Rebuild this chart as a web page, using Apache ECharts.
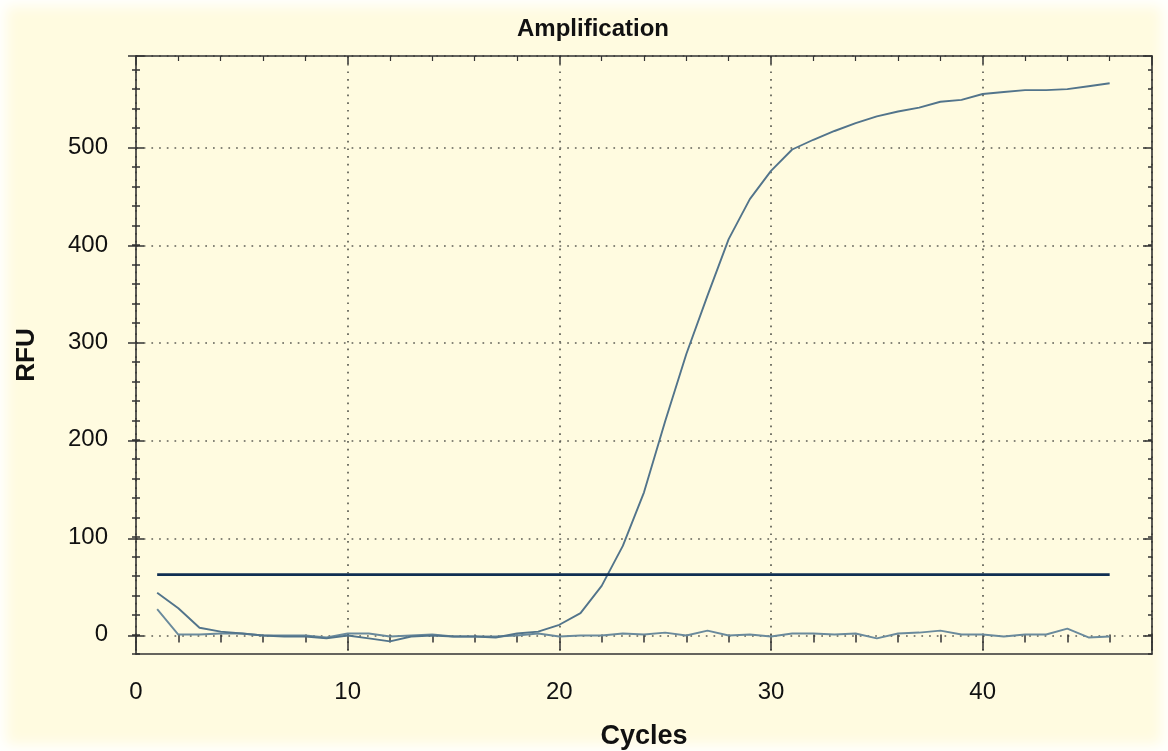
<!DOCTYPE html>
<html>
<head>
<meta charset="utf-8">
<title>Amplification</title>
<script src="https://cdn.jsdelivr.net/npm/echarts@6/dist/echarts.min.js"></script>
<style>
  html, body { margin: 0; padding: 0; background: #fffbe0; }
  #chart {
    width: 1168px;
    height: 751px;
    background: #fffbe0;
    box-shadow: inset 0 0 14px 6px #ffffff;
  }
</style>
</head>
<body>
<div id="chart"></div>
<script>
const cycles = [1, 2, 3, 4, 5, 6, 7, 8, 9, 10, 11, 12, 13, 14, 15, 16, 17, 18, 19, 20, 21, 22, 23,
  24, 25, 26, 27, 28, 29, 30, 31, 32, 33, 34, 35, 36, 37, 38, 39, 40, 41, 42, 43, 44, 45, 46]

// amplifying well
const rfuSample = [43, 27, 7, 3, 1, -1, -2, -2, -4, -1, -4, -7, -2, -1, -2, -2, -3, 1, 3, 10, 22, 50, 91,
  146, 219, 288, 348, 406, 447, 476, 498, 508, 517, 525, 532, 537, 541, 547, 549, 555, 557, 559, 559, 560, 563, 566]

// flat well (no amplification)
const rfuNegative = [26, 0, 0, 1, 1, -1, -1, -1, -3, 1, 1, -2, -1, 0, -2, -2, -2, -1, 1, -2, -1, -1, 1,
  0, 2, -1, 4, -1, 0, -2, 1, 1, 0, 1, -4, 1, 2, 4, 0, 0, -2, 0, 0, 6, -3, -2]

const threshold = 61.5

const xTicks = [0, 10, 20, 30, 40]
const yTicks = [0, 100, 200, 300, 400, 500]

const xRange = [0, 48]
const yRange = [-20, 594]

const font = "'Liberation Sans', Arial, sans-serif"
const axisColor = '#333333'
const mainRect = { left: 136, right: 16, top: 56, bottom: 97, outerBoundsMode: 'none', containLabel: false }
// same box, but cut at y = 0 so ticks every 100 start from zero
const zeroRect = { left: 136, right: 16, top: 56, bottom: 115, outerBoundsMode: 'none', containLabel: false }

const chart = echarts.init(document.getElementById('chart'))

const pairs = (ys) => cycles.map((c, i) => [c, ys[i]])

const dotted = { show: true, lineStyle: { color: '#5f5f55', width: 1.7, type: [1.7, 6] } }
const tickStyle = (len, inside) => ({ show: true, inside: !!inside, length: len, lineStyle: { color: axisColor, width: 1.5 } })
const frameLine = { show: true, onZero: false, lineStyle: { color: axisColor, width: 1.6 } }
const hidden = { axisLine: { show: false }, axisLabel: { show: false }, splitLine: { show: false }, axisTick: { show: false } }

const xAxis = (extra) => Object.assign({ type: 'value', min: xRange[0], max: xRange[1], interval: 10 }, hidden, extra)
const yAxis = (extra) => Object.assign({ type: 'value', min: yRange[0], max: yRange[1], interval: 20 }, hidden, extra)

const option = {
  backgroundColor: 'transparent',
  animation: false,
  title: {
    text: 'Amplification',
    left: 512,
    top: 12,
    textStyle: { fontFamily: font, fontSize: 24, fontWeight: 'bold', color: '#111' },
  },
  grid: [mainRect, mainRect, mainRect, zeroRect],
  xAxis: [
    xAxis({
      gridIndex: 0,
      position: 'bottom',
      name: 'Cycles',
      nameLocation: 'middle',
      nameGap: 69,
      nameTextStyle: { fontFamily: font, fontSize: 27, fontWeight: 'bold', color: '#111' },
      axisLine: frameLine,
      axisLabel: {
        show: true, margin: 26, fontFamily: font, fontSize: 24, color: '#111',
        formatter: (v) => xTicks.includes(v) ? String(v) : '',
      },
      splitLine: dotted,
    }),
    xAxis({
      gridIndex: 0,
      position: 'top',
      axisLine: frameLine,
      axisTick: tickStyle(8, true),
      minorTick: { show: true, splitNumber: 5, length: 5, lineStyle: { color: axisColor, width: 1.2 } },
    }),
    // major ticks crossing the bottom line
    xAxis({ gridIndex: 1, position: 'bottom', offset: -8, axisTick: tickStyle(16) }),
    // minor ticks crossing the bottom line
    xAxis({ gridIndex: 2, position: 'bottom', offset: -4, interval: 2, axisTick: tickStyle(8) }),
    xAxis({ gridIndex: 3, show: false }),
  ],
  yAxis: [
    yAxis({
      gridIndex: 0,
      position: 'left',
      name: 'RFU',
      nameLocation: 'middle',
      nameGap: 96,
      nameTextStyle: { fontFamily: font, fontSize: 26, fontWeight: 'bold', color: '#111' },
      axisLine: frameLine,
      axisLabel: {
        show: true, margin: 28, fontFamily: font, fontSize: 24, color: '#111',
        formatter: (v) => yTicks.includes(v) ? String(v) : '',
      },
    }),
    yAxis({ gridIndex: 0, position: 'right', axisLine: frameLine, axisTick: tickStyle(4, true) }),
    // minor ticks crossing the left line
    yAxis({ gridIndex: 1, position: 'left', offset: -4, axisTick: tickStyle(8) }),
    yAxis({ gridIndex: 2, position: 'left', show: false }),
    // major ticks + dotted grid from zero upward
    yAxis({
      gridIndex: 3, position: 'left', offset: -8, min: 0, interval: 100,
      axisTick: tickStyle(16), splitLine: dotted,
    }),
    yAxis({ gridIndex: 3, position: 'right', min: 0, interval: 100, axisTick: tickStyle(9, true) }),
  ],
  series: [
    {
      name: 'Negative',
      type: 'line',
      xAxisIndex: 0,
      yAxisIndex: 0,
      data: pairs(rfuNegative),
      showSymbol: false,
      lineStyle: { color: '#6a8a9c', width: 1.9 },
    },
    {
      name: 'Sample',
      type: 'line',
      xAxisIndex: 0,
      yAxisIndex: 0,
      data: pairs(rfuSample),
      showSymbol: false,
      lineStyle: { color: '#52748b', width: 1.9 },
    },
    {
      name: 'Threshold',
      type: 'line',
      xAxisIndex: 0,
      yAxisIndex: 0,
      data: [[cycles[0], threshold], [cycles[cycles.length - 1], threshold]],
      showSymbol: false,
      lineStyle: { color: '#0f2e52', width: 2.8 },
    },
  ],
}

chart.setOption(option)
</script>
</body>
</html>
